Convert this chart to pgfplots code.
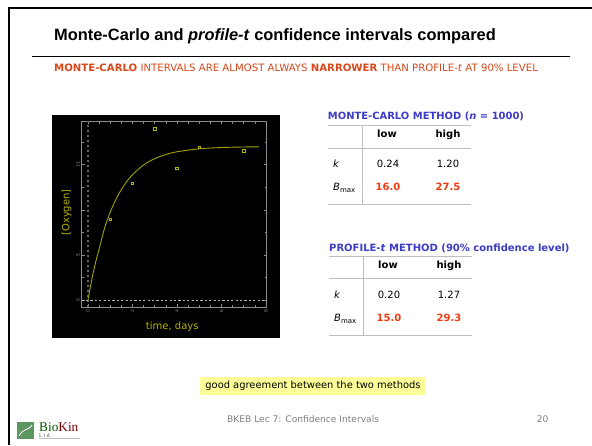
\documentclass[border=0pt]{standalone}
\usepackage{pgfplots}
\pgfplotsset{compat=1.18}
\usepackage{fontspec}
\setmainfont{DejaVu Sans}
\newfontfamily\arial{Liberation Sans}
\newfontfamily\logof{Liberation Serif}
\definecolor{sub}{HTML}{D8481A}
\definecolor{blu}{HTML}{3C3CC8}
\definecolor{red2}{HTML}{F03A10}
\definecolor{oli}{HTML}{B4B400}
\definecolor{rulec}{HTML}{BEBEBE}
\definecolor{axc}{HTML}{8C8C8C}
\definecolor{hl}{HTML}{FFFF99}
\definecolor{foot}{HTML}{808080}
\definecolor{lg}{HTML}{5E9660}
\newcommand{\fs}[1]{\fontsize{#1}{#1}\selectfont}
\tikzset{c/.style={inner sep=0pt,text height=7.5pt,text depth=2pt}}
\begin{document}
\begin{tikzpicture}[x=1pt,y=-1pt]
\useasboundingbox (0,0) rectangle (592,445);
\fill[white] (0,0) rectangle (592,445);
% slide border
\fill[black] (8,7) rectangle (592,9);
\fill[black] (8,7) rectangle (10,445);
\draw[black,line width=0.7pt] (32,56) -- (570,56);
\node[anchor=west,inner sep=0pt] at (54,36) {\arial\fs{16.4}\bfseries Monte-Carlo and \textit{profile-t} confidence intervals compared};
\node[anchor=west,inner sep=0pt,text=sub] at (54,68) {\fs{10.15}\textbf{MONTE-CARLO} INTERVALS ARE ALMOST ALWAYS \textbf{NARROWER} THAN PROFILE-\textit{t} AT 90\% LEVEL};
% black panel
\fill[black] (52,115) rectangle (280,338);
\begin{axis}[at={(81.5pt,-121.3pt)},anchor=north west,scale only axis,width=185.2pt,height=186pt,
 xmin=-0.29,xmax=8.03,ymin=-0.77,ymax=19.8,
 axis line style={axc,line width=1pt},
 tick style={axc,line width=0.6pt},
 tick align=inside,major tick length=3pt,minor tick length=2.2pt,
 xtick={0,2,4,6,8},minor xtick={0.5,1,1.5,2.5,3,3.5,4.5,5,5.5,6.5,7,7.5},
 ytick={0,5,10,15},yticklabels={0,5,,15},minor ytick={2.5,7.5,12.5,17.5},
 xticklabel style={font=\fs{4.5},text=axc,rotate=90,xshift=-1.5pt,inner sep=1pt},
 yticklabel style={font=\fs{4.5},text=axc,rotate=90,inner sep=1.5pt},
 xlabel={time, days},ylabel={[Oxygen]},
 xlabel style={font=\fs{10},text=oli,at={(axis description cs:0.49,-0.105)},anchor=center},
 ylabel style={font=\fs{10},text=oli,at={(axis description cs:-0.08,0.51)},anchor=center,rotate=0},
 /pgf/number format/assume math mode=true,
 clip=true]
\addplot[black!60,line width=1.2pt,dash pattern=on 2.5pt off 2.5pt] coordinates {(0,-0.77)(0,19.8)};
\addplot[black!30,line width=0.6pt,dash pattern=on 2.2pt off 2.2pt] coordinates {(-0.29,0)(8.03,0)};
\addplot[oli!90!black,line width=0.9pt,smooth] coordinates {(0,0)(0.1,1.39)(0.2,2.62)(0.3,3.74)(0.4,4.75)(0.5,5.65)(0.75,8.02)(1,9.74)(1.25,11.13)(1.5,12.25)(1.75,13.16)(2,13.9)(2.5,14.98)(3,15.67)(3.5,16.13)(4,16.43)(5,16.76)(6,16.9)(7,16.96)(7.69,16.98)};
\addplot[only marks,mark=square,mark size=1.2pt,mark options={draw=oli,line width=0.6pt}] coordinates {(1,8.97)(2,12.95)(3,18.97)(4,14.6)(5,16.9)(7,16.53)};
\end{axis}
% table 1
\node[anchor=west,inner sep=0pt,text=blu] at (327.7,116.5) {\fs{9.95}\textbf{MONTE-CARLO METHOD (\textit{n} = 1000)}};
\draw[rulec,line width=0.8pt] (328,125.3) -- (471,125.3) (328,148) -- (471,148) (328,204) -- (471,204) (362.3,125.3) -- (362.3,204);
\node[c] at (387,134.7) {\fs{10}\textbf{low}};
\node[c] at (448,134.7) {\fs{10}\textbf{high}};
\node[c,anchor=west] at (333,164.3) {\fs{10}\textit{k}};
\node[c] at (388,164.3) {\fs{10}0.24};
\node[c] at (448,164.3) {\fs{10}1.20};
\node[c,anchor=west] at (333,187.3) {\fs{10}\textit{B}\raisebox{-2.5pt}{\fs{7}max}};
\node[c,text=red2] at (388,187.3) {\fs{10}\textbf{16.0}};
\node[c,text=red2] at (448,187.3) {\fs{10}\textbf{27.5}};
% table 2
\node[anchor=west,inner sep=0pt,text=blu] at (329,248.7) {\fs{10}\textbf{PROFILE-\textit{t} METHOD (90\% confidence level)}};
\draw[rulec,line width=0.8pt] (329,256.7) -- (472,256.7) (329,278.7) -- (472,278.7) (329,335) -- (472,335) (363.3,256.7) -- (363.3,335);
\node[c] at (388,265.3) {\fs{10}\textbf{low}};
\node[c] at (449,265.3) {\fs{10}\textbf{high}};
\node[c,anchor=west] at (334,295.3) {\fs{10}\textit{k}};
\node[c] at (389,295.3) {\fs{10}0.20};
\node[c] at (449,295.3) {\fs{10}1.27};
\node[c,anchor=west] at (334,318.3) {\fs{10}\textit{B}\raisebox{-2.5pt}{\fs{7}max}};
\node[c,text=red2] at (389,318.3) {\fs{10}\textbf{15.0}};
\node[c,text=red2] at (449,318.3) {\fs{10}\textbf{29.3}};
% note
\fill[hl] (200,377) rectangle (425.7,395);
\node[c] at (313,385.7) {\fs{9.9}good agreement between the two methods};
% footer
\node[c,anchor=west,text=foot] at (227,419.7) {\fs{9.1}BKEB Lec 7: Confidence Intervals};
\node[c,text=foot] at (542.6,419.7) {\fs{9.1}20};
% logo
\fill[lg] (17.3,422) rectangle (34,438.7);
\draw[white,line width=0.8pt] (19,436) .. controls (24,427) and (27,432) .. (32,425);
\node[anchor=west,inner sep=0pt] at (39,427) {\logof\fs{13.3}\textcolor{green!35!black}{Bio}\textcolor{red!50!black}{Kin}};
\node[anchor=west,inner sep=0pt,text=black!70] at (39,435.5) {\logof\fs{5.5}L t d.};
\draw[rulec,line width=0.5pt] (39,438.7) -- (80,438.7);
\end{tikzpicture}
\end{document}
